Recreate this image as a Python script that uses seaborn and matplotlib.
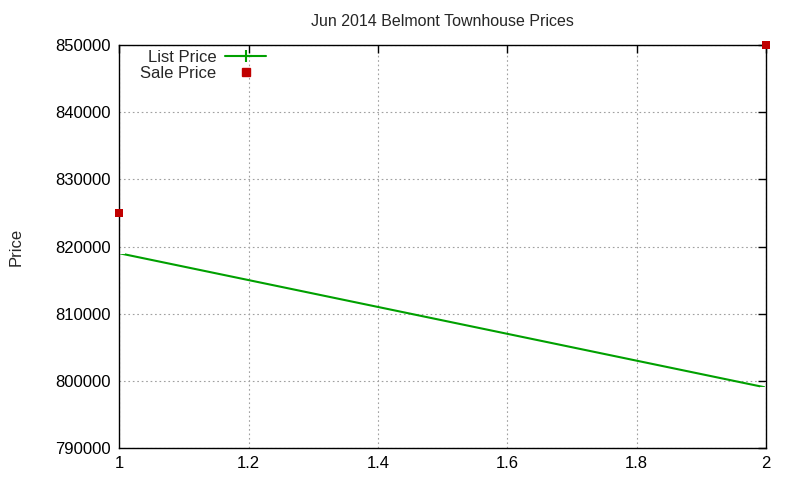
import matplotlib
matplotlib.use("Agg")
import matplotlib.pyplot as plt
import seaborn as sns
import pandas as pd

# data
x_vals = [1, 2]
list_price = [819000, 799000]
sale_price = [825000, 850000]

sns.set_style("white")
plt.rcParams['font.family'] = ['Liberation Sans', 'DejaVu Sans']

df = pd.DataFrame({"x": x_vals, "list": list_price, "sale": sale_price})

fig = plt.figure(figsize=(8, 4.8), dpi=100)
ax = fig.add_axes([0.149, 0.0667, 0.8085, 0.8395])

sns.lineplot(data=df, x="x", y="list", ax=ax, color="#00a000", linewidth=1.5,
             marker="+", markersize=9, markeredgewidth=1.5, legend=False)
sns.scatterplot(data=df, x="x", y="sale", ax=ax, color="#c00000", marker="s",
                s=40, edgecolor="#c00000", linewidth=0, legend=False, zorder=5)
for art in ax.lines + ax.collections:
    art.set_clip_on(False)

ax.set_xlim(1, 2)
ax.set_ylim(790000, 850000)
ax.set_xticks([1, 1.2, 1.4, 1.6, 1.8, 2])
ax.set_xticklabels(["1", "1.2", "1.4", "1.6", "1.8", "2"])
ax.set_yticks(range(790000, 850001, 10000))
ax.set_yticklabels([str(v) for v in range(790000, 850001, 10000)])
ax.tick_params(direction="in", length=6, width=1, top=True, right=True,
               labelsize=12, colors="black", pad=6)
ax.grid(True, color="#a0a0a0", linestyle=(0, (1.5, 2.5)), linewidth=0.8)
for s in ax.spines.values():
    s.set_color("black")
    s.set_linewidth(1)
ax.set_xlabel("")
ax.set_ylabel("Price", fontsize=12, labelpad=23)
ax.set_title("Jun 2014 Belmont Townhouse Prices", fontsize=11.5, pad=14)

h_list = plt.Line2D([], [], color="#00a000", linewidth=1.5, marker="+",
                    markersize=9, markeredgewidth=1.5)
h_sale = plt.Line2D([], [], color="#c00000", linestyle="none", marker="s",
                    markersize=6)
ax.legend([h_list, h_sale], ["List Price", "Sale Price"], loc="upper right",
          bbox_to_anchor=(0.238, 1.005), frameon=False, markerfirst=False,
          fontsize=12, handlelength=2.5, labelspacing=0.05,
          borderaxespad=0.0, handletextpad=0.5)

fig.savefig("out.png", dpi=100)
